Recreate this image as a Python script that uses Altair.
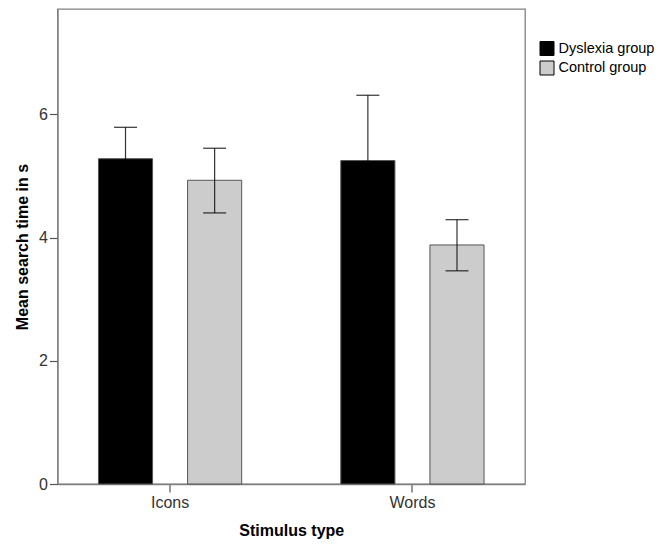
import altair as alt
import pandas as pd

# Data
stimulus = ["Icons", "Icons", "Words", "Words"]
group = ["Dyslexia group", "Control group", "Dyslexia group", "Control group"]
mean_time = [5.28, 4.93, 5.25, 3.88]
lower_err = [4.77, 4.40, 4.19, 3.46]
upper_err = [5.79, 5.45, 6.31, 4.29]
group_order = ["Dyslexia group", "Control group"]
group_colors = ["#000000", "#cccccc"]
y_ticks = [0, 2, 4, 6]

df = pd.DataFrame({
    "stimulus": stimulus,
    "group": group,
    "mean": mean_time,
    "lower": lower_err,
    "upper": upper_err,
})

FONT = "Liberation Sans"
YTITLE = "Mean search time in s"
yscale = alt.Scale(domain=[0, 7.71], nice=False, zero=True)

base = alt.Chart(df).encode(
    x=alt.X(
        "stimulus:N",
        sort=["Icons", "Words"],
        scale=alt.Scale(paddingInner=0.409, paddingOuter=0.169),
        axis=alt.Axis(title="Stimulus type", labelAngle=0),
    ),
    xOffset=alt.XOffset(
        "group:N",
        sort=group_order,
        scale=alt.Scale(domain=group_order, paddingInner=0.393, paddingOuter=0),
    ),
)

bars = base.mark_bar(stroke="#555555", strokeWidth=1).encode(
    y=alt.Y("mean:Q", scale=yscale, title=YTITLE,
            axis=alt.Axis(values=y_ticks, grid=False, format="d")),
    color=alt.Color(
        "group:N",
        scale=alt.Scale(domain=group_order, range=group_colors),
        legend=alt.Legend(
            title=None,
            orient="none",
            legendX=482,
            legendY=32,
            symbolType="square",
            symbolSize=196,
            symbolStrokeColor="#000000",
            symbolStrokeWidth=1,
            labelFontSize=14.5,
            labelFont=FONT,
            labelColor="#000000",
            labelOffset=4,
            rowPadding=0.5,
            padding=0,
        ),
    ),
)

ERR_COLOR = "#000000"
rules = base.mark_rule(color=ERR_COLOR, strokeWidth=1.2, opacity=0.8).encode(
    y=alt.Y("lower:Q", scale=yscale, title=YTITLE),
    y2="upper:Q",
)
caps_hi = base.mark_tick(color=ERR_COLOR, thickness=1.2, size=23, opacity=0.8).encode(
    y=alt.Y("upper:Q", scale=yscale, title=YTITLE),
)
caps_lo = base.mark_tick(color=ERR_COLOR, thickness=1.2, size=23, opacity=0.8).encode(
    y=alt.Y("lower:Q", scale=yscale, title=YTITLE),
)

chart = (
    alt.layer(bars, rules, caps_hi, caps_lo)
    .properties(
        width=467.5,
        height=475,
        autosize=alt.AutoSizeParams(type="none"),
        padding={"left": 49.5, "top": 1, "right": 133, "bottom": 60},
    )
    .configure_view(stroke="#808080", strokeWidth=1.3)
    .configure_axis(
        domainColor="#808080",
        domainWidth=1.3,
        tickColor="#555555",
        tickSize=8,
        tickWidth=1.2,
        labelFont=FONT,
        labelFontSize=16,
        labelColor="#333333",
        titleFont=FONT,
        titleFontSize=16,
        titleFontWeight="bold",
        titleColor="#000000",
    )
    .configure_axisY(labelPadding=2, titlePadding=8)
    .configure_axisX(labelPadding=2, titlePadding=12)
)

chart.save("out.html", embed_options={"renderer": "svg", "actions": False})
